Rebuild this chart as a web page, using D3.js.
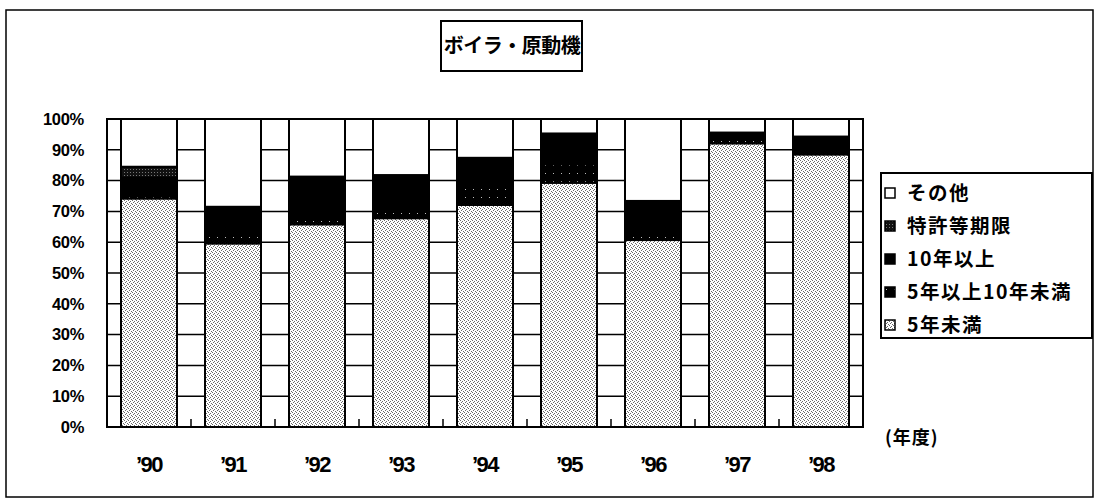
<!DOCTYPE html>
<html>
<head>
<meta charset="utf-8">
<script src="https://cdn.jsdelivr.net/npm/d3@7"></script>
<style>
  body { margin: 0; background: #fff; }
  svg text { fill: #000; }
</style>
</head>
<body>
<script>
'use strict';

// category labels and series names
const years = ["’90", "’91", "’92", "’93", "’94", "’95", "’96", "’97", "’98"];
const seriesNames = ["5年未満", "5年以上10年未満", "10年以上", "特許等期限", "その他"];

// shares in percent, bottom of the stack first
const under5 = [74.2, 59.6, 65.8, 67.8, 72.1, 79.3, 60.7, 92.1, 88.5];
const from5to10 = [2.5, 4.5, 3.0, 3.5, 5.5, 6.0, 2.5, 1.5, 1.2];
const over10 = [4.3, 6.9, 12.5, 10.5, 9.3, 9.5, 10.2, 1.8, 4.3];
const patent = [3.5, 0.5, 0, 0, 0.5, 0.5, 0, 0.2, 0.3];
const other = [15.5, 28.5, 18.7, 18.2, 12.6, 4.7, 26.6, 4.4, 5.7];

const yTicks = [0, 10, 20, 30, 40, 50, 60, 70, 80, 90, 100];

const W = 1095, H = 500;
const plot = { left: 107, right: 863, top: 119, bottom: 427 };
const font = "'Liberation Sans', Arial, sans-serif";
const jpFont = "'Noto Sans CJK JP', 'Noto Sans', sans-serif";

const svg = d3.select('body').append('svg')
  .attr('width', W)
  .attr('height', H);

// fill patterns (the printed chart uses hatching, not colour)
const defs = svg.append('defs');

let p = defs.append('pattern').attr('id', 'pGray')
  .attr('patternUnits', 'userSpaceOnUse').attr('width', 4).attr('height', 4);
p.append('rect').attr('width', 4).attr('height', 4).attr('fill', '#fff');
[[0, 0], [2, 1], [1, 2], [3, 3]].forEach(([x, y]) =>
  p.append('rect').attr('x', x).attr('y', y).attr('width', 1).attr('height', 1).attr('fill', '#6a6a6a'));

p = defs.append('pattern').attr('id', 'pDot')
  .attr('patternUnits', 'userSpaceOnUse').attr('width', 8).attr('height', 8);
p.append('rect').attr('width', 8).attr('height', 8).attr('fill', '#000');
p.append('rect').attr('x', 1).attr('y', 5).attr('width', 1).attr('height', 1).attr('fill', '#bbb');

p = defs.append('pattern').attr('id', 'pGrid')
  .attr('patternUnits', 'userSpaceOnUse').attr('width', 3).attr('height', 3);
p.append('rect').attr('width', 3).attr('height', 3).attr('fill', '#111');
p.append('rect').attr('x', 1).attr('y', 1).attr('width', 1).attr('height', 1).attr('fill', '#777');

const fills = {
  "5年未満": "url(#pGray)",
  "5年以上10年未満": "url(#pDot)",
  "10年以上": "#000",
  "特許等期限": "url(#pGrid)",
  "その他": "#fff"
};

// outer chart frame
svg.append('rect')
  .attr('x', 6).attr('y', 10)
  .attr('width', 1087).attr('height', 487)
  .attr('fill', 'none').attr('stroke', '#000').attr('stroke-width', 1.5);

// title box
svg.append('rect')
  .attr('x', 441).attr('y', 21)
  .attr('width', 141).attr('height', 50)
  .attr('fill', '#fff').attr('stroke', '#000').attr('stroke-width', 2);
svg.append('text')
  .attr('x', 512).attr('y', 53)
  .attr('text-anchor', 'middle')
  .style('font-family', jpFont).style('font-weight', 'bold').style('font-size', '20px')
  .style('letter-spacing', '-0.5px')
  .text('ボイラ・原動機');

// scales
const xScale = d3.scaleBand()
  .domain(years)
  .range([plot.left, plot.right])
  .paddingInner(1 / 3)
  .paddingOuter(1 / 6);

const yScale = d3.scaleLinear()
  .domain([0, 100])
  .range([plot.bottom, plot.top]);

// gridlines behind the bars
svg.append('g').selectAll('line')
  .data(yTicks)
  .enter()
  .append('line')
  .attr('x1', plot.left).attr('x2', plot.right)
  .attr('y1', d => yScale(d)).attr('y2', d => yScale(d))
  .attr('stroke', '#000').attr('stroke-width', 1.5);

// stacked bars
const rows = years.map((y, i) => ({
  year: y,
  "5年未満": under5[i],
  "5年以上10年未満": from5to10[i],
  "10年以上": over10[i],
  "特許等期限": patent[i],
  "その他": other[i]
}));
const stacked = d3.stack().keys(seriesNames)(rows);

svg.append('g').selectAll('g')
  .data(stacked)
  .enter()
  .append('g')
  .attr('fill', d => fills[d.key])
  .selectAll('rect')
  .data(d => d.filter(s => s[1] - s[0] > 0))
  .enter()
  .append('rect')
  .attr('x', d => xScale(d.data.year))
  .attr('width', xScale.bandwidth())
  .attr('y', d => yScale(d[1]))
  .attr('height', d => yScale(d[0]) - yScale(d[1]))
  .attr('stroke', '#000')
  .attr('stroke-width', 2);

// plot area border
svg.append('rect')
  .attr('x', plot.left).attr('y', plot.top)
  .attr('width', plot.right - plot.left).attr('height', plot.bottom - plot.top)
  .attr('fill', 'none').attr('stroke', '#000').attr('stroke-width', 2);

// category ticks between bars
const gap = xScale.step() - xScale.bandwidth();
svg.append('g').selectAll('line')
  .data(years.slice(1))
  .enter()
  .append('line')
  .attr('x1', d => xScale(d) - gap / 2).attr('x2', d => xScale(d) - gap / 2)
  .attr('y1', plot.bottom).attr('y2', plot.bottom - 8)
  .attr('stroke', '#000').attr('stroke-width', 1.5);

// y axis labels
const yAxis = d3.axisLeft(yScale)
  .tickValues(yTicks)
  .tickSize(0)
  .tickPadding(23)
  .tickFormat(d => d + '%');
const yG = svg.append('g')
  .attr('transform', `translate(${plot.left}, 0)`)
  .call(yAxis);
yG.select('.domain').remove();
yG.selectAll('text')
  .style('font-family', font).style('font-weight', 'bold').style('font-size', '16.5px')
  .style('letter-spacing', '-0.3px');

// x axis labels
const xAxis = d3.axisBottom(xScale).tickSize(0).tickPadding(29);
const xG = svg.append('g')
  .attr('transform', `translate(0, ${plot.bottom})`)
  .call(xAxis);
xG.select('.domain').remove();
xG.selectAll('text')
  .style('font-family', font).style('font-weight', 'bold').style('font-size', '22px')
  .style('letter-spacing', '-1.5px');

svg.append('text')
  .attr('x', 885).attr('y', 444)
  .style('font-family', jpFont).style('font-weight', 'bold').style('font-size', '18px')
  .style('letter-spacing', '1px')
  .text('(年度)');

// legend, top item = top of the stack
const legendItems = seriesNames.slice().reverse();
svg.append('rect')
  .attr('x', 881).attr('y', 173)
  .attr('width', 211).attr('height', 165)
  .attr('fill', '#fff').attr('stroke', '#000').attr('stroke-width', 2);

const legend = svg.append('g').selectAll('g')
  .data(legendItems)
  .enter()
  .append('g')
  .attr('transform', (d, i) => `translate(885, ${193 + i * 33})`);

legend.append('rect')
  .attr('x', 0).attr('y', -5)
  .attr('width', 10).attr('height', 10)
  .attr('fill', d => fills[d])
  .attr('stroke', '#000').attr('stroke-width', 1.5);

legend.append('text')
  .attr('x', 22).attr('y', 7)
  .style('font-family', jpFont).style('font-weight', 'bold').style('font-size', '19.5px')
  .style('letter-spacing', '1.5px')
  .text(d => d);
</script>
</body>
</html>
